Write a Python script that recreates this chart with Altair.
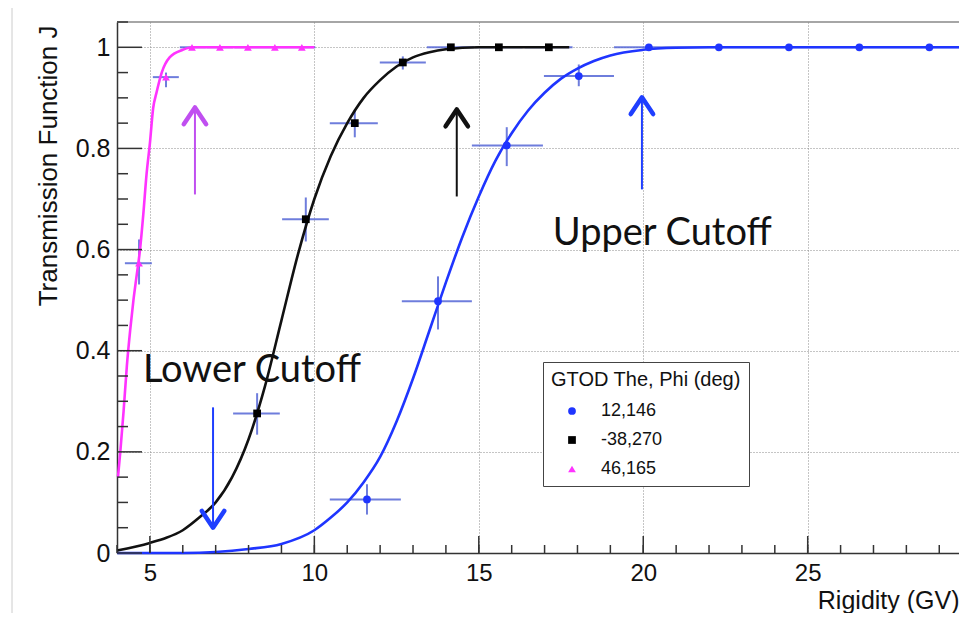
import altair as alt
import pandas as pd

# ---------------- data ----------------
series_names = ["12,146", "-38,270", "46,165"]
series_colors = ["#1f35ff", "#000000", "#ff33ff"]
series_shapes = ["circle", "square", "triangle-up"]

# measured points (x, y) with horizontal / vertical error ranges
blue_x = [11.60, 13.76, 15.85, 18.04, 20.17, 22.30, 24.43, 26.57, 28.70]
blue_y = [0.106, 0.498, 0.806, 0.943, 1.0, 1.0, 1.0, 1.0, 1.0]
blue_xlo = [10.47, 12.66, 14.79, 16.98, 19.11, 21.24, 23.37, 25.50, 27.63]
blue_xhi = [12.63, 14.79, 16.95, 19.11, 21.24, 23.37, 25.50, 27.63, 29.76]
blue_ylo = [0.076, 0.442, 0.765, 0.923, 1.0, 1.0, 1.0, 1.0, 1.0]
blue_yhi = [0.136, 0.547, 0.842, 0.966, 1.0, 1.0, 1.0, 1.0, 1.0]

black_x = [8.26, 9.74, 11.23, 12.69, 14.15, 15.61, 17.13]
black_y = [0.276, 0.660, 0.850, 0.970, 1.0, 1.0, 1.0]
black_xlo = [7.53, 9.02, 10.47, 11.99, 13.42, 14.89, 16.40]
black_xhi = [8.95, 10.44, 11.93, 13.39, 14.85, 16.33, 17.85]
black_ylo = [0.234, 0.616, 0.822, 0.956, 1.0, 1.0, 1.0]
black_yhi = [0.316, 0.703, 0.877, 0.982, 1.0, 1.0, 1.0]

mag_x = [4.67, 5.49, 6.28, 7.13, 7.98, 8.80, 9.62]
mag_y = [0.573, 0.941, 1.0, 1.0, 1.0, 1.0, 1.0]
mag_xlo = [4.24, 5.09, 5.91, 6.72, 7.57, 8.39, 9.21]
mag_xhi = [5.06, 5.88, 6.70, 7.53, 8.39, 9.21, 10.03]
mag_ylo = [0.531, 0.921, 1.0, 1.0, 1.0, 1.0, 1.0]
mag_yhi = [0.620, 0.950, 1.0, 1.0, 1.0, 1.0, 1.0]

# fitted curves
blue_curve_x = [4.0, 6.0, 7.0, 8.0, 9.0, 10.0, 10.5, 11.0, 11.5, 12.0, 12.5, 13.0, 13.5, 14.0,
                14.5, 15.0, 15.5, 16.0, 16.5, 17.0, 17.5, 18.0, 18.5, 19.0, 20.0, 21.0, 22.0, 29.6]
blue_curve_y = [0.0, 0.0, 0.002, 0.008, 0.018, 0.045, 0.07, 0.10, 0.14, 0.19, 0.26, 0.345, 0.44,
                0.535, 0.625, 0.705, 0.775, 0.83, 0.875, 0.91, 0.938, 0.958, 0.973, 0.984, 0.995,
                0.999, 1.0, 1.0]

black_curve_x = [4.0, 5.0, 5.5, 6.0, 6.5, 7.0, 7.5, 8.0, 8.5, 9.0, 9.5, 10.0, 10.5, 11.0, 11.5,
                 12.0, 12.5, 13.0, 13.5, 14.0, 15.0, 17.75]
black_curve_y = [0.005, 0.02, 0.03, 0.045, 0.07, 0.10, 0.15, 0.225, 0.33, 0.46, 0.59, 0.70, 0.785,
                 0.85, 0.90, 0.935, 0.962, 0.98, 0.99, 0.996, 1.0, 1.0]

mag_curve_x = [4.03, 4.1, 4.2, 4.3, 4.4, 4.5, 4.6, 4.7, 4.8, 4.9, 5.0, 5.1, 5.2, 5.36, 5.6,
               6.0, 6.3, 10.0]
mag_curve_y = [0.15, 0.20, 0.28, 0.37, 0.44, 0.50, 0.55, 0.60, 0.67, 0.75, 0.81, 0.88, 0.91,
               0.95, 0.98, 0.995, 1.0, 1.0]

# axis tick values
x_major = [5, 10, 15, 20, 25]
x_minor = list(range(4, 30))
y_major = [0, 0.2, 0.4, 0.6, 0.8, 1]
y_minor = [0.05, 0.1, 0.15, 0.25, 0.3, 0.35, 0.45, 0.5, 0.55, 0.65, 0.7, 0.75, 0.85, 0.9, 0.95, 1.05]

# annotations
note_text = ["Lower Cutoff", "Upper Cutoff"]
note_x = [4.79, 17.25]
note_y = [0.339, 0.610]

arrow_x = [6.37, 14.33, 19.96, 6.92]
arrow_from = [0.709, 0.705, 0.719, 0.288]
arrow_to = [0.881, 0.877, 0.901, 0.05]
arrow_dir = ["up", "up", "up", "down"]
arrow_color = ["#c04ff0", "#111111", "#1f3fff", "#1f3fff"]

# ---------------- tables ----------------
def pts(name, x, y, xlo, xhi, ylo, yhi):
    return pd.DataFrame({"series": name, "x": x, "y": y, "xlo": xlo, "xhi": xhi,
                         "ylo": ylo, "yhi": yhi})

points = pd.concat([
    pts(series_names[0], blue_x, blue_y, blue_xlo, blue_xhi, blue_ylo, blue_yhi),
    pts(series_names[1], black_x, black_y, black_xlo, black_xhi, black_ylo, black_yhi),
    pts(series_names[2], mag_x, mag_y, mag_xlo, mag_xhi, mag_ylo, mag_yhi),
], ignore_index=True)

curves = pd.concat([
    pd.DataFrame({"series": series_names[0], "color": series_colors[0], "x": blue_curve_x, "y": blue_curve_y}),
    pd.DataFrame({"series": series_names[1], "color": "#111111", "x": black_curve_x, "y": black_curve_y}),
    pd.DataFrame({"series": series_names[2], "color": series_colors[2], "x": mag_curve_x, "y": mag_curve_y}),
], ignore_index=True)

notes = pd.DataFrame({"t": note_text, "x": note_x, "y": note_y})
arrows = pd.DataFrame({"x": arrow_x, "y": arrow_from, "y2": arrow_to, "dir": arrow_dir, "c": arrow_color})

W, H = 842, 531
FONT = "Liberation Sans"

xscale = alt.Scale(domain=[4, 29.6], nice=False, zero=False)
yscale = alt.Scale(domain=[0, 1.05], nice=False, zero=False)

xaxis = alt.Axis(values=x_major, grid=True, gridDash=[1, 2], gridColor="#8a8a8a", gridWidth=1,
                 ticks=False, labelFontSize=24, labelFont=FONT, labelColor="#111",
                 labelPadding=8, domainColor="#333", domainWidth=1.5,
                 title="Rigidity (GV)", titleFont=FONT, titleFontSize=25, titleFontWeight="normal",
                 titleColor="#111", titleAnchor="end", titleAlign="right", titleBaseline="alphabetic",
                 titleX=W, titleY=55)
yaxis = alt.Axis(values=y_major, format="~g", grid=True, gridDash=[1, 2], gridColor="#8a8a8a",
                 gridWidth=1, ticks=False, labelFontSize=25, labelFont=FONT, labelColor="#111",
                 labelPadding=7, domainColor="#333", domainWidth=1.5,
                 title="Transmission Function J", titleFont=FONT, titleFontSize=26,
                 titleFontWeight="normal", titleColor="#111", titleAngle=-90, titleAlign="right",
                 titleBaseline="alphabetic", titleX=-61, titleY=3)


def X(f):
    return alt.X(f, type="quantitative", scale=xscale, axis=xaxis)


def Y(f):
    return alt.Y(f, type="quantitative", scale=yscale, axis=yaxis)


base_pts = alt.Chart(points)

err_h = base_pts.mark_rule(color="#5566d6", strokeWidth=2, opacity=0.85).encode(
    x=X("xlo"), x2="xhi", y=Y("y"))
err_v = base_pts.mark_rule(color="#5566d6", strokeWidth=2, opacity=0.85).encode(
    x=X("x"), y=Y("ylo"), y2="yhi")

lines = alt.Chart(curves).mark_line(strokeWidth=2.6, interpolate="monotone").encode(
    x=X("x"), y=Y("y"), color=alt.Color("color:N", scale=None), detail="series:N")

legend = alt.Legend(title="GTOD The, Phi (deg)", orient="none", legendX=426, legendY=340,
                    fillColor="white", strokeColor="#444", padding=8,
                    titleFont=FONT, titleFontSize=20, titleFontWeight="normal", titleColor="#111",
                    titleLimit=400, titlePadding=12, labelFont=FONT, labelFontSize=18,
                    labelColor="#111", labelLimit=300,
                    rowPadding=11, symbolOffset=12, labelOffset=20, symbolSize=60,
                    symbolStrokeWidth=0)

markers = base_pts.mark_point(filled=True, size=60, opacity=1).encode(
    x=X("x"), y=Y("y"),
    color=alt.Color("series:N", scale=alt.Scale(domain=series_names, range=series_colors), legend=legend),
    shape=alt.Shape("series:N", scale=alt.Scale(domain=series_names, range=series_shapes), legend=legend),
)

# inward tick marks (ROOT style)
tick_style = dict(color="#333", strokeWidth=1.5)
xmin_t = alt.Chart(pd.DataFrame({"v": x_minor})).mark_rule(**tick_style).encode(
    x=X("v"), y=alt.value(H), y2=alt.value(H - 8))
xmaj_t = alt.Chart(pd.DataFrame({"v": x_major})).mark_rule(**tick_style).encode(
    x=X("v"), y=alt.value(H), y2=alt.value(H - 17))
ymin_t = alt.Chart(pd.DataFrame({"v": y_minor})).mark_rule(**tick_style).encode(
    y=Y("v"), x=alt.value(0), x2=alt.value(11))
ymaj_t = alt.Chart(pd.DataFrame({"v": y_major})).mark_rule(**tick_style).encode(
    y=Y("v"), x=alt.value(0), x2=alt.value(25))

# top frame line (plot continues past the right edge of the picture)
top_frame = alt.Chart(pd.DataFrame({"v": [0]})).mark_rule(color="#888", strokeWidth=1.5).encode(
    y=alt.value(0), x=alt.value(0), x2=alt.value(W + 10))

# slide border line at far left
edge = alt.Chart(pd.DataFrame({"v": [0]})).mark_rule(color="#cccccc", strokeWidth=1).encode(
    x=alt.value(-105), y=alt.value(-20), y2=alt.value(H + 64))

texts = alt.Chart(notes).mark_text(align="left", baseline="alphabetic", font="Lato",
                                   fontSize=38, color="#111").encode(
    x=X("x"), y=Y("y"), text="t:N")

arrow_lines = alt.Chart(arrows).mark_rule(strokeWidth=2).encode(
    x=X("x"), y=Y("y"), y2="y2", color=alt.Color("c:N", scale=None))
heads_up = alt.Chart(arrows).transform_filter(alt.datum.dir == "up").mark_point(
    shape="M-1,1.5L0,0L1,1.5", filled=False, size=500, strokeWidth=4.5,
    strokeCap="round", strokeJoin="round", opacity=1).encode(
    x=X("x"), y=Y("y2"), color=alt.Color("c:N", scale=None))
heads_down = alt.Chart(arrows).transform_filter(alt.datum.dir == "down").mark_point(
    shape="M-1,-1.5L0,0L1,-1.5", filled=False, size=500, strokeWidth=4.5,
    strokeCap="round", strokeJoin="round", opacity=1).encode(
    x=X("x"), y=Y("y2"), color=alt.Color("c:N", scale=None))

chart = alt.layer(
    edge, top_frame, err_h, err_v, lines, markers, xmin_t, xmaj_t, ymin_t, ymaj_t,
    texts, arrow_lines, heads_up, heads_down
).properties(
    width=W, height=H,
    autosize=alt.AutoSizeParams(type="none"),
    padding={"left": 109, "top": 14, "right": 0, "bottom": 60},
    background="white",
).configure_view(strokeWidth=0)

chart.save("out.html", embed_options={"renderer": "svg", "actions": False})
